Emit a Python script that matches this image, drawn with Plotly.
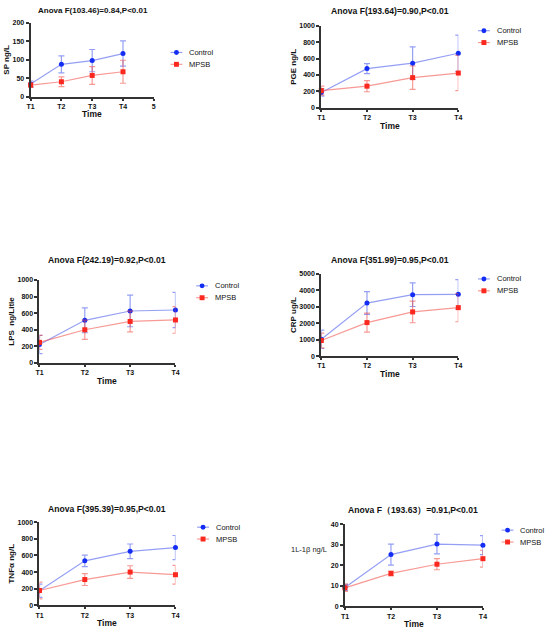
import plotly.graph_objects as go

# time points
times = ["T1", "T2", "T3", "T4"]
time_x = [1, 2, 3, 4]
groups = ["Control", "MPSB"]

# SP ng/L
sp_control = [35, 88, 98, 117]
sp_control_sd = [8, 23, 30, 34]
sp_mpsb = [32, 41, 58, 68]
sp_mpsb_sd = [6, 13, 24, 31]

# PGE ng/L
pge_control = [188, 478, 544, 665]
pge_control_sd = [45, 60, 198, 222]
pge_mpsb = [210, 264, 368, 424]
pge_mpsb_sd = [55, 68, 142, 214]

# LPS ng/Litle
lps_control = [222, 514, 626, 638]
lps_control_sd = [110, 150, 190, 212]
lps_mpsb = [248, 400, 500, 518]
lps_mpsb_sd = [85, 115, 125, 160]

# CRP ug/L
crp_control = [1020, 3230, 3740, 3760]
crp_control_sd = [560, 690, 720, 900]
crp_mpsb = [950, 2040, 2690, 2950]
crp_mpsb_sd = [450, 580, 660, 860]

# TNFa ng/L
tnf_control = [175, 535, 650, 695]
tnf_control_sd = [80, 70, 88, 145]
tnf_mpsb = [178, 310, 400, 368]
tnf_mpsb_sd = [100, 72, 76, 112]

# 1L-1b ng/L
il_control = [9.2, 25.2, 30.3, 29.8]
il_control_sd = [1.5, 5.1, 4.8, 4.6]
il_mpsb = [9.0, 16.0, 20.5, 23.2]
il_mpsb_sd = [1.8, 1.2, 2.7, 4.1]

titles = ["Anova F(103.46)=0.84,P<0.01", "Anova F(193.64)=0.90,P<0.01",
          "Anova F(242.19)=0.92,P<0.01", "Anova F(351.99)=0.95,P<0.01",
          "Anova F(395.39)=0.95,P<0.01", "Anova F\uff08193.63\uff09=0.91,P<0.01"]
ylabels = ["SP ng/L", "PGE ng/L", "LPS  ng/Litle", "CRP ug/L", "TNF\u03b1 ng/L", "1L-1\u03b2 ng/L"]

W, H = 550, 635
FONT = "Liberation Sans"
BLUE = "rgb(20,45,245)"
RED = "rgb(250,40,30)"
BLUE_L = "rgba(60,80,235,0.55)"
RED_L = "rgba(240,70,60,0.55)"

def px(x):
    return x / W

def py(y):
    return 1 - y / H

panels = [
    # x px range, y px range, y max, dtick, legend text (x, y), title (x, y, size), time y
    dict(c=sp_control, csd=sp_control_sd, m=sp_mpsb, msd=sp_mpsb_sd,
         xp=(27, 152), yp=(19, 94), yr=200, dt=50, xmax=5, leg=(186, 49), tt=(90, 7, 8), time=111),
    dict(c=pge_control, csd=pge_control_sd, m=pge_mpsb, msd=pge_mpsb_sd,
         xp=(322, 461), yp=(22, 105), yr=1000, dt=200, xmax=4, leg=(498, 27), tt=(392, 7, 8.6), time=123),
    dict(c=lps_control, csd=lps_control_sd, m=lps_mpsb, msd=lps_mpsb_sd,
         xp=(36, 174), yp=(279, 363), yr=1000, dt=200, xmax=4, leg=(212, 285), tt=(105, 259, 8.6), time=381),
    dict(c=crp_control, csd=crp_control_sd, m=crp_mpsb, msd=crp_mpsb_sd,
         xp=(322, 461), yp=(273, 356), yr=5000, dt=1000, xmax=4, leg=(498, 278), tt=(392, 259, 8.6), time=374),
    dict(c=tnf_control, csd=tnf_control_sd, m=tnf_mpsb, msd=tnf_mpsb_sd,
         xp=(36, 174), yp=(524, 608), yr=1000, dt=200, xmax=4, leg=(213, 529), tt=(105, 511, 8.6), time=626),
    dict(c=il_control, csd=il_control_sd, m=il_mpsb, msd=il_mpsb_sd,
         xp=(346, 486), yp=(526, 609), yr=40, dt=10, xmax=4, leg=(522, 532), tt=(415, 512, 8.6), time=627),
]

fig = go.Figure()
annotations = []
shapes = []

for i, p in enumerate(panels):
    n = i + 1
    sfx = "" if n == 1 else str(n)
    series = [(p["c"], p["csd"], BLUE, BLUE_L, "circle"),
              (p["m"], p["msd"], RED, RED_L, "square")]
    for name, (vals, sd, col, lcol, sym) in zip(groups, series):
        fig.add_trace(go.Scatter(
            x=time_x, y=vals, name=name, mode="lines+markers",
            xaxis="x" + sfx, yaxis="y" + sfx, showlegend=False, cliponaxis=False,
            line=dict(color=lcol, width=1.2),
            marker=dict(color=col, symbol=sym, size=5),
            error_y=dict(type="data", array=sd, color=lcol, thickness=1.2, width=3),
        ))

    xt = list(range(1, p["xmax"] + 1))
    xtt = times + (["5"] if p["xmax"] == 5 else [])
    fig.layout["xaxis" + sfx] = dict(
        domain=[px(p["xp"][0]), px(p["xp"][1])], anchor="y" + sfx,
        range=[1, p["xmax"]], tickvals=xt, ticktext=xtt,
        showline=True, linecolor="#333", linewidth=2, ticks="outside",
        ticklen=2, tickwidth=1.5, tickcolor="#333", showgrid=False, zeroline=False,
        tickfont=dict(family=FONT, size=7, color="#111", weight="bold"),
    )
    fig.layout["yaxis" + sfx] = dict(
        domain=[py(p["yp"][1]), py(p["yp"][0])], anchor="x" + sfx,
        range=[0, p["yr"]], dtick=p["dt"],
        showline=True, linecolor="#333", linewidth=2, ticks="outside",
        ticklen=3, tickwidth=1.5, tickcolor="#333", showgrid=False, zeroline=False,
        tickfont=dict(family=FONT, size=7, color="#111", weight="bold"),
    )
    if n != 6:
        fig.layout["yaxis" + sfx].title = dict(
            text=ylabels[i], standoff=2,
            font=dict(family=FONT, size=8, color="#111", weight="bold"))
    else:
        annotations.append(dict(
            text=ylabels[i], x=px(310), y=py(558), xref="paper", yref="paper",
            showarrow=False, font=dict(family=FONT, size=7.5, color="#222")))

    # hand-drawn compact legend
    lx, ly = p["leg"]
    for k, (name, (_, _, col, lcol, sym)) in enumerate(zip(groups, series)):
        yy = ly + k * 12
        shapes.append(dict(type="line", xref="paper", yref="paper",
                           x0=px(lx - 17), x1=px(lx - 5), y0=py(yy), y1=py(yy),
                           line=dict(color=lcol, width=1.2)))
        shapes.append(dict(type="circle" if sym == "circle" else "rect",
                           xref="paper", yref="paper",
                           x0=px(lx - 13.5), x1=px(lx - 8.5), y0=py(yy + 2.5), y1=py(yy - 2.5),
                           fillcolor=col, line=dict(width=0)))
        annotations.append(dict(
            text=name, x=px(lx), y=py(yy), xref="paper", yref="paper", showarrow=False,
            xanchor="left", yanchor="middle",
            font=dict(family=FONT, size=7.5, color="#111")))

    annotations.append(dict(
        text="<b>" + titles[i] + "</b>", x=px(p["tt"][0]), y=py(p["tt"][1]),
        xref="paper", yref="paper", showarrow=False, xanchor="center", yanchor="middle",
        font=dict(family=FONT, size=p["tt"][2], color="#111")))
    annotations.append(dict(
        text="<b>Time</b>", x=px((p["xp"][0] + p["xp"][1]) / 2),
        y=py(p["time"]), xref="paper", yref="paper", showarrow=False,
        xanchor="center", yanchor="middle",
        font=dict(family=FONT, size=8.5, color="#111")))

fig.update_layout(
    width=W, height=H, margin=dict(l=0, r=0, t=0, b=0),
    paper_bgcolor="white", plot_bgcolor="white",
    annotations=annotations, shapes=shapes, showlegend=False,
)

fig.write_html("out.html", config={"displayModeBar": False},
               post_script="document.body.style.margin='0';")
